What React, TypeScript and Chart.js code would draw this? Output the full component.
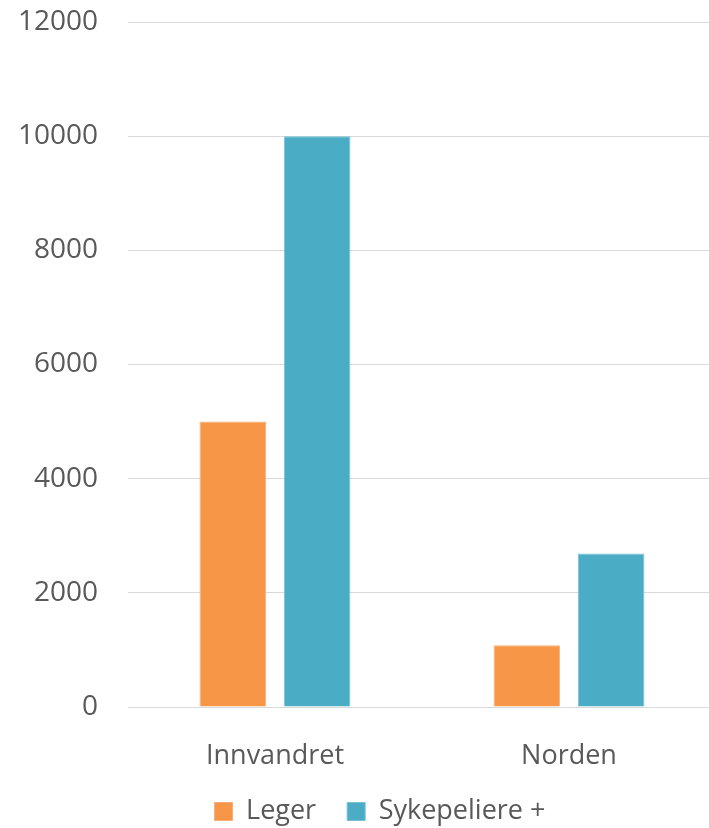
import React, { useEffect, useRef } from "react";
import { Chart, registerables } from "chart.js";

Chart.register(...registerables);

const categories = ["Innvandret", "Norden"];
const legerValues = [5000, 1080];
const sykepleiereValues = [10000, 2690];
const seriesNames = ["Leger", "Sykepeliere +"];
const yTicks = [0, 2000, 4000, 6000, 8000, 10000, 12000];

const W = 760;
const H = 828;

export default function App() {
  const ref = useRef<HTMLCanvasElement | null>(null);

  useEffect(() => {
    if (!ref.current) return;
    const font = { family: "'Open Sans', sans-serif", size: 27 };
    const yFont = { family: "'Open Sans', sans-serif", size: 28 };
    const chart = new Chart(ref.current, {
      type: "bar",
      data: {
        labels: categories,
        datasets: [
          {
            label: seriesNames[0],
            data: legerValues,
            backgroundColor: "#F79646",
            borderColor: "#F9AE76",
            borderWidth: 1,
            barPercentage: 0.79,
            categoryPercentage: 0.5735,
          },
          {
            label: seriesNames[1],
            data: sykepleiereValues,
            backgroundColor: "#4BACC6",
            borderColor: "#78C1D4",
            borderWidth: 1,
            barPercentage: 0.79,
            categoryPercentage: 0.5735,
          },
        ],
      },
      options: {
        responsive: false,
        animation: false,
        layout: { padding: { top: 22, bottom: -7, left: 0, right: 0 } },
        plugins: {
          tooltip: { enabled: false },
          legend: {
            position: "bottom",
            labels: {
              color: "#595959",
              font,
              boxWidth: 18,
              boxHeight: 18,
              padding: 31,
            },
          },
        },
        scales: {
          x: {
            grid: { display: false },
            border: { display: false },
            ticks: { color: "#595959", font, padding: 25 },
            afterFit: (s: any) => {
              s.height = 60;
            },
          },
          y: {
            min: 0,
            max: 12000,
            afterBuildTicks: (s: any) => {
              s.ticks = yTicks.map((v) => ({ value: v }));
            },
            grid: { color: "#D9D9D9", lineWidth: 1, drawTicks: false },
            border: { display: false },
            ticks: {
              color: "#595959",
              font: yFont,
              padding: 30,
              callback: (v: any) => String(v),
            },
            afterFit: (s: any) => {
              s.width = 128;
              s.paddingTop = 0;
              s.paddingBottom = 0;
            },
          },
          yPad: {
            position: "right",
            display: true,
            grid: { display: false },
            border: { display: false },
            ticks: { display: false },
            afterFit: (s: any) => {
              s.width = 44;
              s.paddingTop = 0;
              s.paddingBottom = 0;
            },
          },
        },
      },
    });
    return () => chart.destroy();
  }, []);

  return (
    <div
      style={{
        position: "fixed",
        left: 0,
        top: 0,
        width: 709,
        height: 828,
        overflow: "hidden",
        background: "#fff",
      }}
    >
      <canvas ref={ref} width={W} height={H} style={{ width: W, height: H, display: "block" }} />
    </div>
  );
}
